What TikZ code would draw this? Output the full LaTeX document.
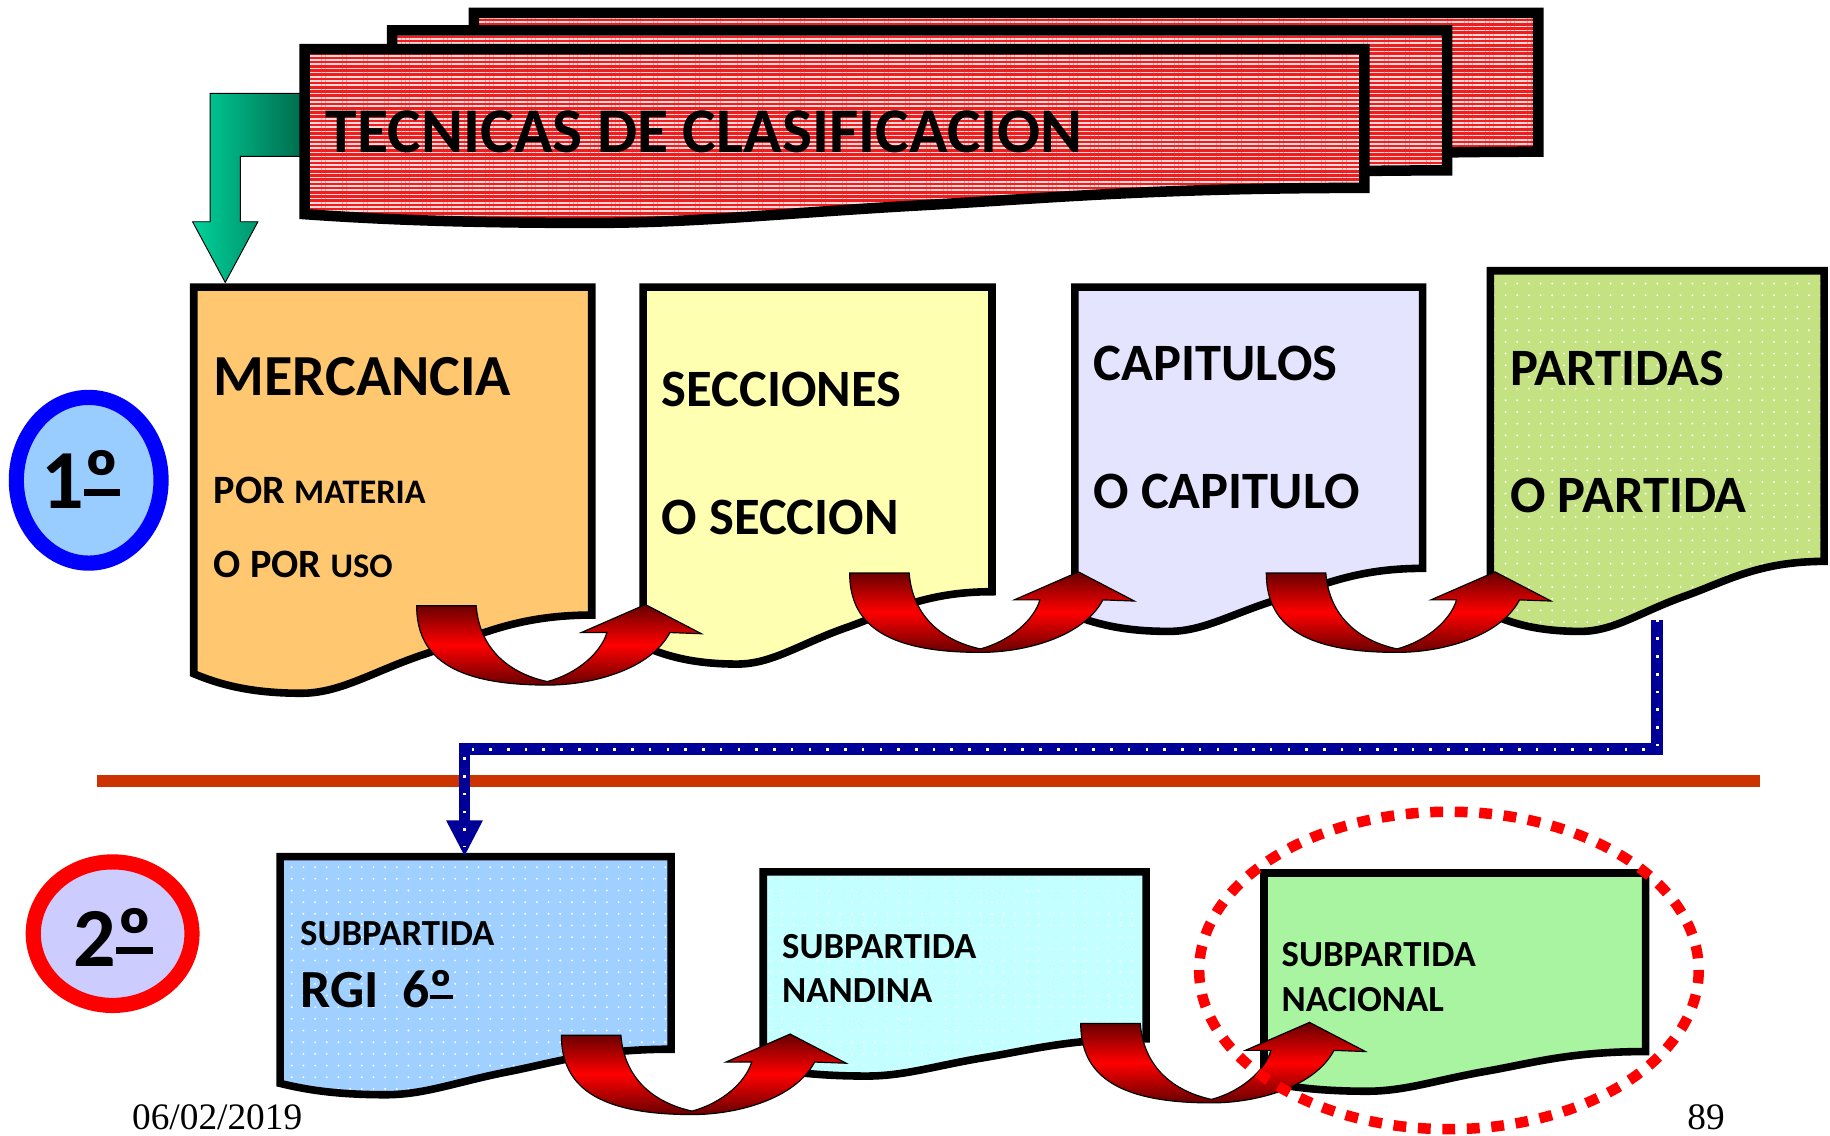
\documentclass[tikz,border=0pt]{standalone}
\usepackage{fontspec}
\setmainfont{Carlito}
\newfontfamily\tnr{Liberation Serif}
\usetikzlibrary{patterns.meta,arrows.meta}

\definecolor{bannerred}{RGB}{238,30,30}
\definecolor{greenL}{RGB}{0,210,155}
\definecolor{greenD}{RGB}{0,105,75}
\definecolor{circA}{RGB}{153,204,255}
\definecolor{circB}{RGB}{204,204,255}
\definecolor{cMerc}{RGB}{255,200,112}
\definecolor{cSecc}{RGB}{255,255,178}
\definecolor{cCap}{RGB}{228,228,255}
\definecolor{cPart}{RGB}{196,226,130}
\definecolor{cRgi}{RGB}{160,208,255}
\definecolor{cNand}{RGB}{196,255,255}
\definecolor{cNac}{RGB}{168,244,160}
\definecolor{sepline}{RGB}{204,51,0}
\definecolor{navycon}{RGB}{0,0,153}

\tikzset{
  banner/.style={preaction={fill=bannerred}, pattern={Lines[angle=0,distance=3.6pt,line width=1.4pt]}, pattern color=white!85!red, draw=black, line width=9, line join=miter},
  docbox/.style={draw=black, line width=6.5, line join=miter, fill=#1},
  dotbox/.style={preaction={fill=#1}, pattern={Dots[distance=10pt,radius=0.9pt]}, pattern color=white, draw=black, line width=6.5, line join=miter},
  redarrow/.style={draw=black, line width=1, top color=red!40!black, bottom color=red!40!black, middle color=red},
  txt/.style={anchor=base west, inner sep=0pt, font=\bfseries},
  bluecon/.style={draw=navycon, line width=10, line join=miter},
}

\newcommand\docshape[6]{%
  \path[#1] (#2,#3) -- (#4,#3) -- (#4,#5)
  .. controls ({#4-0.2*(#4-#2)},#5) and ({#2+0.7*(#4-#2)},{#5+0.3*#6}) .. ({#2+0.58*(#4-#2)},{#5+0.5*#6})
  .. controls ({#2+0.45*(#4-#2)},{#5+0.72*#6}) and ({#2+0.37*(#4-#2)},{#5+#6}) .. ({#2+0.27*(#4-#2)},{#5+#6})
  .. controls ({#2+0.15*(#4-#2)},{#5+#6}) and ({#2+0.07*(#4-#2)},{#5+0.9*#6}) .. (#2,{#5+0.75*#6}) -- cycle;}

\newcommand\uturn[2]{%
  \path[redarrow, shift={(#1,#2)}] (0,0) .. controls (0,42) and (28,68) .. (112,68)
   .. controls (150,68) and (200,55) .. (217,23) -- (244,24) -- (196,-1) -- (141,23) -- (163,23)
   .. controls (158,40) and (138,58) .. (112,65)
   .. controls (80,58) and (54,38) .. (51,0) -- cycle;}

\newcommand\fs[1]{\fontsize{#1}{#1}\selectfont}
\newcommand\uo{\setbox0\hbox{º}\rlap{\rule[0.15em]{\wd0}{0.085em}}\box0}

\begin{document}
\begin{tikzpicture}[x=1pt,y=-1pt]
\useasboundingbox (0,0) rectangle (1568,973);
\fill[white] (0,0) rectangle (1568,973);

% banners
\docshape{banner}{406}{11}{1318}{130}{30}
\docshape{banner}{336}{26}{1240}{146}{30}
% green bent arrow
\path[draw=black, line width=0.8, left color=greenL, right color=greenD]
  (262,80) -- (180,80) -- (180,190) -- (165,190) -- (193,242) -- (221,190) -- (206,190) -- (206,134) -- (262,134) -- cycle;
\docshape{banner}{261}{42}{1169}{161}{30}
\node[txt] (title) at (279,131) {\fs{54.6}TECNICAS DE CLASIFICACION};

% circles
\draw[line width=13, draw=blue, fill=circA] (76,411.5) ellipse [x radius=62, y radius=71];
\node[txt] (one) at (35,436) {\fs{72}1\uo};
\draw[line width=13, draw=red, fill=circB] (96.5,800) ellipse [x radius=68, y radius=61.5];
\node[txt] (two) at (63,828) {\fs{72}2\uo};

% separator
\draw[line width=10, draw=sepline] (83,669) -- (1508,669);

% top row documents
\docshape{docbox=cMerc}{166}{246}{507}{527}{67}
\docshape{docbox=cSecc}{551}{246}{850}{507}{62}
\docshape{docbox=cCap}{921}{246}{1219}{487}{54}
\docshape{dotbox=cPart}{1277}{232}{1563}{481}{60}

\node[txt] (merc) at (183,339) {\fs{49.8}MERCANCIA};
\node[txt] (mat) at (183,431) {\fs{34.5}POR \fs{29.5}MATERIA};
\node[txt] (uso) at (183,495) {\fs{34.5}O POR \fs{29.5}USO};
\node[txt] (secc) at (567,348) {\fs{45}SECCIONES};
\node[txt] (osecc) at (567,458) {\fs{45}O SECCION};
\node[txt] (cap) at (937,326) {\fs{45}CAPITULOS};
\node[txt] (ocap) at (937,436) {\fs{45}O CAPITULO};
\node[txt] (part) at (1294,330) {\fs{45}PARTIDAS};
\node[txt] (opart) at (1294,439) {\fs{45}O PARTIDA};

% bottom row documents
\docshape{dotbox=cRgi}{240}{734}{575}{899}{39}
\docshape{dotbox=cNand}{654}{747}{982}{890}{32}
\docshape{docbox=cNac}{1083}{748}{1410}{901}{34}

\node[txt] (sub1) at (257,810) {\fs{31.5}SUBPARTIDA};
\node[txt] (rgi) at (257,863) {\fs{46}RGI~~6\uo};
\node[txt] (sub2) at (670,821) {\fs{31.5}SUBPARTIDA};
\node[txt] (nand) at (670,859) {\fs{31.5}NANDINA};
\node[txt] (sub3) at (1098,828) {\fs{31.5}SUBPARTIDA};
\node[txt] (nac) at (1098,867) {\fs{31.5}NACIONAL};

% red u-turn arrows
\uturn{357}{519}
\uturn{728}{491}
\uturn{1085}{491}
\uturn{481}{887}
\uturn{926}{877}

% blue dotted connector
\coordinate (pb) at (1420,531);
\coordinate (rt) at (398,734);
\draw[bluecon, -{Triangle[width=29pt,length=31pt]}] (pb) -- (1420,642) -| (rt);
\draw[white, line width=2.2, dash pattern=on 2.2pt off 13pt, shorten >=8pt] (pb) -- (1420,642) -| (rt);

% dotted ellipse
\draw[draw=red, line width=9, dash pattern=on 11pt off 10pt] (1241.5,831.5) ellipse [x radius=214, y radius=136];

% footer
\node[anchor=base west, inner sep=0pt] (date) at (113,968) {\tnr\fs{32}06/02/2019};
\node[anchor=base east, inner sep=0pt] (page) at (1478,968) {\tnr\fs{32}89};
\end{tikzpicture}
\end{document}
